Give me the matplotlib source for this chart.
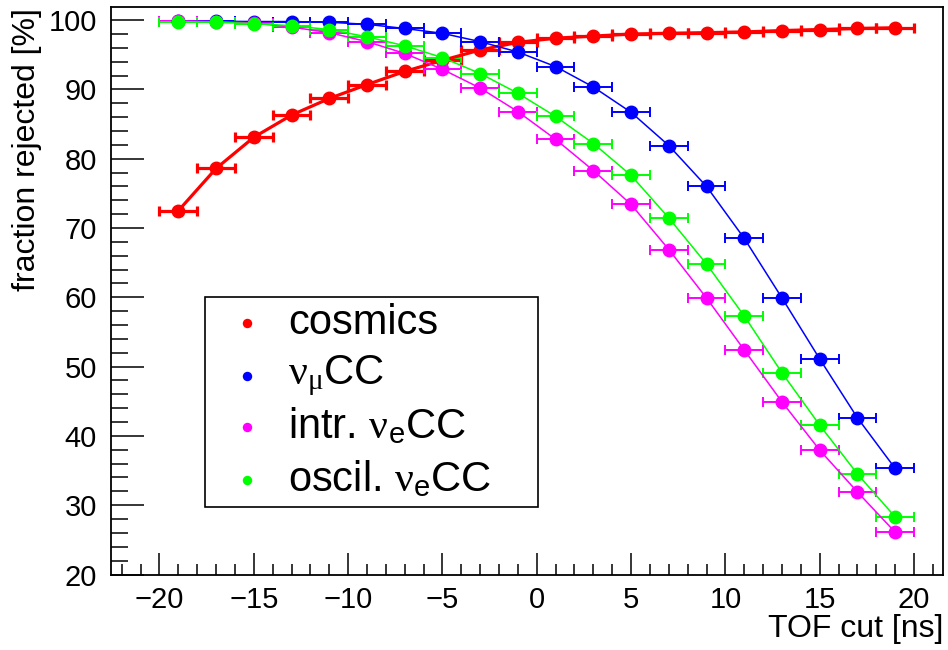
import matplotlib
matplotlib.use("Agg")
import matplotlib.pyplot as plt
from matplotlib.lines import Line2D
from matplotlib.patches import Rectangle
from matplotlib.ticker import MultipleLocator

plt.rcParams["font.family"] = ["Liberation Sans", "DejaVu Sans"]
plt.rcParams["mathtext.fontset"] = "custom"
plt.rcParams["mathtext.rm"] = "Liberation Serif"
plt.rcParams["mathtext.it"] = "Liberation Serif:italic"
plt.rcParams["mathtext.bf"] = "Liberation Serif:bold"

# TOF cut values (bin centres) and half-width of each bin
tof_cut = [-19, -17, -15, -13, -11, -9, -7, -5, -3, -1,
           1, 3, 5, 7, 9, 11, 13, 15, 17, 19]
bin_half_width = 1.0

cosmics = [72.5, 78.6, 83.1, 86.3, 88.7, 90.7, 92.6, 94.2, 95.7, 96.8,
           97.4, 97.7, 98.0, 98.1, 98.2, 98.3, 98.5, 98.65, 98.8, 98.9]
numu_cc = [99.9, 99.85, 99.8, 99.8, 99.7, 99.4, 98.8, 98.1, 96.9, 95.4,
           93.3, 90.35, 86.7, 81.9, 76.0, 68.5, 59.9, 51.1, 42.6, 35.3]
intr_nue_cc = [99.9, 99.8, 99.6, 99.0, 98.2, 96.9, 95.2, 92.9, 90.2, 86.8,
               82.8, 78.3, 73.4, 66.9, 59.9, 52.4, 44.9, 37.95, 31.9, 26.1]
oscil_nue_cc = [99.8, 99.7, 99.5, 99.2, 98.65, 97.6, 96.3, 94.6, 92.3, 89.45,
                86.1, 82.2, 77.6, 71.45, 64.8, 57.3, 49.1, 41.55, 34.5, 28.3]

labels = ["cosmics", r"$\mathrm{\nu}_{\mathrm{\mu}}$CC",
          r"intr. $\mathrm{\nu}_{\mathregular{e}}$CC",
          r"oscil. $\mathrm{\nu}_{\mathregular{e}}$CC"]
colors = ["#ff0000", "#0000ff", "#ff00ff", "#00ff00"]

W, H = 948, 650
fig = plt.figure(figsize=(W / 100, H / 100), dpi=100)
ax = fig.add_axes([111 / W, 1 - 574.5 / H, (943.3 - 111) / W, (574.5 - 7) / H])

series = [cosmics, numu_cc, intr_nue_cc, oscil_nue_cc]
widths = [2.3, 1.1, 1.1, 1.1]
ebar_widths = [2.3, 1.4, 1.4, 1.4]
for vals, col, lw, elw in zip(series, colors, widths, ebar_widths):
    ax.errorbar(tof_cut, vals, xerr=bin_half_width, fmt="-o", color=col,
                lw=lw, ms=9, elinewidth=elw, capsize=3.5, capthick=elw,
                zorder=3)

ax.set_xlim(-22.57, 21.55)
ax.set_ylim(20, 101.9)
ax.xaxis.set_major_locator(MultipleLocator(5))
ax.xaxis.set_minor_locator(MultipleLocator(1))
ax.yaxis.set_major_locator(MultipleLocator(10))
ax.yaxis.set_minor_locator(MultipleLocator(2))
ax.tick_params(which="both", direction="in", top=False, right=False,
               labelsize=21, width=1.1, color="black")
ax.tick_params(axis="y", which="major", length=24, pad=10)
ax.tick_params(axis="y", which="minor", length=12)
ax.tick_params(axis="x", which="major", length=16, pad=8)
ax.tick_params(axis="x", which="minor", length=8)
for sp in ax.spines.values():
    sp.set_linewidth(1.3)

fig.text(27 / W, 1 - 8 / H, "fraction rejected [%]", rotation=90,
         ha="center", va="top", fontsize=23)
fig.text(943 / W, 1 - 629 / H, "TOF cut [ns]", ha="right", va="center",
         fontsize=23)

# legend box with marker entries
box = Rectangle((205 / W, 1 - 507 / H), (538 - 205) / W, (507 - 297) / H,
                transform=fig.transFigure, facecolor="white",
                edgecolor="black", lw=1.2, zorder=5)
fig.patches.append(box)
row_y = [323, 376, 427, 480]
for lab, col, yy in zip(labels, colors, row_y):
    fig.add_artist(Line2D([247 / W], [1 - yy / H], marker="o", ms=6.8,
                          color=col, markeredgewidth=0, ls="none",
                          transform=fig.transFigure, zorder=6))
    fig.text(288 / W, 1 - yy / H, lab, ha="left", va="center",
             fontsize=30, zorder=6)

fig.savefig("out.png", dpi=100)
